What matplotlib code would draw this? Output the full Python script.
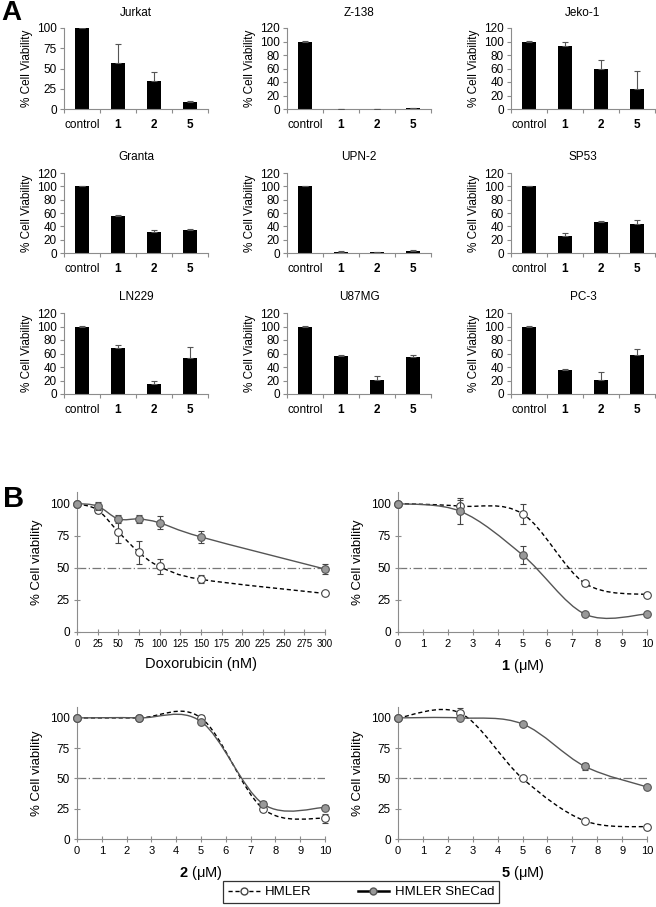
import numpy as np
import matplotlib
matplotlib.use('Agg')
import matplotlib.pyplot as plt
from matplotlib.path import Path
from matplotlib.patches import PathPatch
from matplotlib.lines import Line2D

plt.rcParams['font.family'] = ['Liberation Sans', 'DejaVu Sans']
plt.rcParams['mathtext.fontset'] = 'custom'
plt.rcParams['mathtext.rm'] = 'Liberation Sans'
plt.rcParams['mathtext.bf'] = 'Liberation Sans:bold'

"""
A. cell viability bars (control, 1, 2, 5)
"""
cats = ['control', '1', '2', '5']
cell_lines = ['Jurkat', 'Z-138', 'Jeko-1', 'Granta', 'UPN-2', 'SP53',
              'LN229', 'U87MG', 'PC-3']

jurkat = [100, 57, 34, 9]
jurkat_err = [0, 23, 12, 1]
z138 = [100, 0.5, 0.5, 1]
z138_err = [0.5, 0, 0, 0.5]
jeko1 = [100, 94, 59, 29]
jeko1_err = [0.5, 5, 14, 28]
granta = [100, 55, 32, 35]
granta_err = [0.5, 2, 3, 1]
upn2 = [100, 2, 1, 3]
upn2_err = [0.5, 1, 0, 1]
sp53 = [100, 25, 46, 44]
sp53_err = [0.5, 5, 2, 6]
ln229 = [100, 68, 15, 54]
ln229_err = [0.5, 4, 5, 16]
u87mg = [100, 56, 21, 55]
u87mg_err = [0.5, 2, 5, 3]
pc3 = [100, 36, 21, 58]
pc3_err = [0.5, 1, 11, 9]

bar_vals = [jurkat, z138, jeko1, granta, upn2, sp53, ln229, u87mg, pc3]
bar_errs = [jurkat_err, z138_err, jeko1_err, granta_err, upn2_err, sp53_err,
            ln229_err, u87mg_err, pc3_err]

"""
B. dose response, HMLER vs HMLER ShECad
"""
dox_x = [0, 25, 50, 75, 100, 150, 300]
dox_hmler = [100, 95, 78, 62, 51, 41, 30]
dox_hmler_err = [0, 2, 9, 9, 6, 3, 1]
dox_shecad = [100, 98, 88, 88, 85, 74, 49]
dox_shecad_err = [0, 3, 3, 3, 5, 5, 4]

cmp_x = [0, 2.5, 5, 7.5, 10]
c1_hmler = [100, 98, 92, 38, 29]
c1_hmler_err = [0, 5, 8, 2, 1]
c1_shecad = [100, 94, 60, 14, 14]
c1_shecad_err = [0, 10, 7, 1, 1]

c2_hmler = [100, 100, 100, 25, 17]
c2_hmler_err = [0, 1, 2, 2, 4]
c2_shecad = [100, 100, 97, 29, 26]
c2_shecad_err = [0, 1, 1, 2, 2]

c5_hmler = [100, 104, 50, 15, 10]
c5_hmler_err = [0, 4, 1, 1, 1]
c5_shecad = [100, 100, 95, 60, 43]
c5_shecad_err = [0, 1, 1, 3, 1]

W, H = 656, 907
fig = plt.figure(figsize=(W/100, H/100), dpi=100)


def px_axes(x0, y0, x1, y1):
    # pixel box (left, top, right, bottom) -> figure fraction
    return fig.add_axes([x0/W, 1 - y1/H, (x1 - x0)/W, (y1 - y0)/H])


def excel_smooth(x, y):
    # bezier path like excel "smoothed line"
    pts = np.column_stack([x, y]).astype(float)
    n = len(pts)
    verts = [pts[0]]
    codes = [Path.MOVETO]
    for i in range(n - 1):
        p0 = pts[i - 1] if i > 0 else pts[i]
        p3 = pts[i + 2] if i + 2 < n else pts[i + 1]
        verts += [pts[i] + (pts[i + 1] - p0)/6,
                  pts[i + 1] - (p3 - pts[i])/6,
                  pts[i + 1]]
        codes += [Path.CURVE4]*3
    return Path(verts, codes)


spine_c = '#8c8c8c'

# ---------- panel A ----------
col_x = [(64, 208), (287, 431), (511, 655)]
row_y = [(28, 109), (173, 253), (313, 394)]
pos = np.arange(len(cats))

for k, name in enumerate(cell_lines):
    r, c = divmod(k, 3)
    ax = px_axes(col_x[c][0], row_y[r][0], col_x[c][1], row_y[r][1])
    ax.bar(pos, bar_vals[k], width=0.4, color='black', zorder=2)
    ax.errorbar(pos, bar_vals[k], yerr=[np.zeros(len(cats)), bar_errs[k]],
                fmt='none', ecolor='#555555', elinewidth=0.8, capsize=2,
                capthick=0.8, zorder=3)
    ax.set_xlim(-0.5, 3.5)
    if name == 'Jurkat':
        ax.set_ylim(0, 100)
        ax.set_yticks([0, 25, 50, 75, 100])
    else:
        ax.set_ylim(0, 120)
        ax.set_yticks(np.arange(0, 121, 20))
    ax.set_xticks(np.arange(-0.5, 4, 1))
    ax.set_xticklabels([])
    ax.set_xticks(pos, minor=True)
    ax.set_xticklabels(cats, minor=True)
    for lab in ax.get_xticklabels(minor=True)[1:]:
        lab.set_fontweight('bold')
    ax.tick_params(axis='x', which='minor', length=0, pad=7, labelsize=8.5)
    ax.tick_params(axis='x', which='major', length=3, color=spine_c)
    ax.tick_params(axis='y', length=3, color=spine_c, labelsize=8.5, pad=2)
    for s in ['top', 'right']:
        ax.spines[s].set_visible(False)
    for s in ['left', 'bottom']:
        ax.spines[s].set_color(spine_c)
        ax.spines[s].set_linewidth(0.8)
    ax.set_ylabel('% Cell Viability', fontsize=8.5, labelpad=3)
    ax.set_title(name, fontsize=8.5, pad=9)

# ---------- panel B ----------
b_boxes = [(77, 492, 325, 632), (398, 492, 647, 632),
           (77, 707, 325, 839), (398, 707, 647, 839)]
b_data = [(dox_x, dox_hmler, dox_hmler_err, dox_shecad, dox_shecad_err),
          (cmp_x, c1_hmler, c1_hmler_err, c1_shecad, c1_shecad_err),
          (cmp_x, c2_hmler, c2_hmler_err, c2_shecad, c2_shecad_err),
          (cmp_x, c5_hmler, c5_hmler_err, c5_shecad, c5_shecad_err)]
b_xlabels = ['Doxorubicin (nM)', r'$\mathbf{1}$ (μM)', r'$\mathbf{2}$ (μM)',
             r'$\mathbf{5}$ (μM)']

for k, box in enumerate(b_boxes):
    xs, hm, hm_e, sh, sh_e = b_data[k]
    ax = px_axes(*box)
    ax.axhline(50, color='#777777', lw=0.9, ls=(0, (7, 2, 1, 2)), zorder=1)
    ax.add_patch(PathPatch(excel_smooth(xs, hm), fill=False, ec='black',
                           lw=1.0, ls=(0, (3, 2)), zorder=2, clip_on=False))
    ax.add_patch(PathPatch(excel_smooth(xs, sh), fill=False, ec='#555555',
                           lw=1.0, zorder=2, clip_on=False))
    ax.errorbar(xs, hm, yerr=hm_e, fmt='o', ms=5.5, mfc='white', mec='#444444',
                mew=0.8, ecolor='#444444', elinewidth=0.8, capsize=2,
                capthick=0.8, zorder=4, clip_on=False)
    ax.errorbar(xs, sh, yerr=sh_e, fmt='o', ms=5.5, mfc='#999999', mec='#555555',
                mew=0.8, ecolor='#444444', elinewidth=0.8, capsize=2,
                capthick=0.8, zorder=5, clip_on=False)
    if k == 0:
        ax.set_xlim(0, 300)
        ax.set_xticks(np.arange(0, 301, 25))
        ax.tick_params(axis='x', labelsize=7)
    else:
        ax.set_xlim(0, 10)
        ax.set_xticks(np.arange(0, 11, 1))
        ax.tick_params(axis='x', labelsize=8)
    ax.set_ylim(0, 109)
    ax.set_yticks([0, 25, 50, 75, 100])
    ax.tick_params(axis='both', direction='inout', length=4, color=spine_c,
                   pad=3)
    ax.tick_params(axis='y', labelsize=8.5)
    for s in ['top', 'right']:
        ax.spines[s].set_visible(False)
    for s in ['left', 'bottom']:
        ax.spines[s].set_color(spine_c)
        ax.spines[s].set_linewidth(0.8)
    ax.set_ylabel('% Cell viability', fontsize=9.5, labelpad=5)
    ax.set_xlabel(b_xlabels[k], fontsize=10.5, labelpad=6)

# legend
h1 = Line2D([], [], ls=(0, (3, 2)), color='black', lw=1.0, marker='o', ms=5,
            mfc='white', mec='#444444')
h2 = Line2D([], [], ls='-', color='black', lw=1.8, marker='o', ms=5,
            mfc='#999999', mec='#555555')
leg = fig.legend([h1, h2], ['HMLER', 'HMLER ShECad'], loc='center',
                 bbox_to_anchor=(361/W, 1 - 892/H), ncol=2, fontsize=9.5,
                 frameon=True, fancybox=False, handlelength=2.4,
                 columnspacing=3.5, borderpad=0.4, handletextpad=0.4)
leg.get_frame().set_edgecolor('black')
leg.get_frame().set_linewidth(0.9)

# panel letters
fig.text(1/W, 1.0, 'A', fontsize=20, fontweight='bold', va='top')
fig.text(3/W, 1 - 499/H, 'B', fontsize=21, fontweight='bold', va='center')

fig.savefig('out.png', dpi=100)
